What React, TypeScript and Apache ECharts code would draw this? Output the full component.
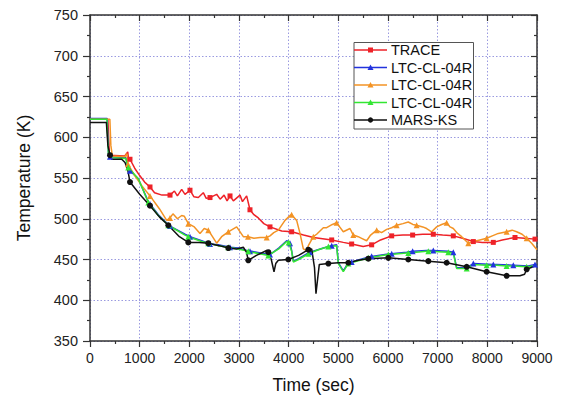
import React, { useEffect, useRef } from "react";
import * as echarts from "echarts";

// [time (s), temperature (K), marker flag]
const traceData: number[][] = [
  [0, 622], [360, 622, 0], [390, 578], [700, 577], [760, 582], [775, 574], [805, 573, 1], [900, 562], [1000, 553],
  [1100, 545], [1208, 539, 1], [1300, 532], [1450, 529], [1611, 529, 1], [1700, 534], [1760, 528], [1846, 536],
  [1913, 530], [2013, 535, 1], [2090, 527], [2181, 526], [2281, 532], [2340, 525], [2416, 526, 1], [2550, 530],
  [2620, 524], [2700, 529], [2760, 522], [2819, 528, 1], [2886, 522], [3020, 529], [3070, 521], [3154, 528],
  [3221, 511, 1], [3300, 505], [3389, 501], [3500, 494], [3624, 490, 1], [3859, 485], [4060, 484, 1], [4300, 480],
  [4500, 477], [4866, 474, 1], [5100, 471], [5268, 469, 1], [5500, 466], [5671, 468, 1], [5850, 474],
  [6074, 479, 1], [6300, 480], [6496, 480, 1], [6700, 481], [6912, 481, 1], [7100, 480], [7315, 479, 1],
  [7500, 476], [7718, 472, 1], [7900, 471], [8120, 471, 1], [8300, 474], [8557, 477, 1], [8750, 476],
  [8960, 475, 1], [9000, 475],
];

const ltcBlueData: number[][] = [
  [0, 623], [345, 623], [372, 580], [403, 576, 1], [720, 575], [760, 566], [805, 559, 1], [973, 549], [1174, 521],
  [1208, 518, 1], [1376, 505], [1577, 493], [1611, 491, 1], [1913, 481], [2013, 478, 1], [2248, 473], [2416, 469, 1],
  [2583, 468], [2819, 465, 1], [2986, 464], [3221, 460, 1], [3255, 460], [3590, 456], [3624, 456, 1], [3800, 464],
  [3960, 473], [4000, 472], [4027, 470, 1], [4060, 461], [4094, 448], [4200, 451], [4396, 458], [4430, 459, 1],
  [4700, 464], [4866, 467, 1], [4966, 468], [5000, 446], [5100, 436], [5201, 446], [5268, 447, 1], [5436, 450],
  [5671, 454, 1], [5704, 454], [6040, 457], [6074, 457, 1], [6376, 459], [6496, 460, 1], [6778, 461], [6912, 461, 1],
  [7214, 460], [7315, 459, 1], [7382, 440], [7584, 440], [7718, 445, 1], [8120, 444, 1], [8188, 444], [8523, 443, 1],
  [8825, 442], [8960, 444, 1], [9000, 444],
];

const ltcOrangeData: number[][] = [
  [0, 622], [400, 622], [420, 590], [450, 577], [700, 576], [740, 580], [765, 567, 1], [900, 553], [1050, 540],
  [1208, 528, 1], [1400, 512], [1544, 498], [1611, 501, 1], [1670, 506], [1760, 500], [1846, 504], [1900, 503],
  [1980, 494, 1], [2100, 490], [2215, 482], [2300, 488], [2382, 486, 1], [2550, 470], [2650, 478], [2785, 484, 1],
  [2953, 490], [3087, 478], [3181, 478, 1], [3300, 476], [3423, 477], [3557, 477, 1], [3624, 479], [3700, 483],
  [3792, 486], [3926, 498], [4027, 504], [4060, 505, 1], [4161, 498], [4228, 482], [4295, 463], [4362, 461],
  [4396, 467], [4496, 478, 1], [4563, 481], [4698, 489], [4765, 489], [4880, 493], [4966, 495, 1], [5100, 484],
  [5234, 488], [5301, 480, 1], [5400, 478], [5469, 476], [5570, 473], [5650, 480], [5772, 486, 1], [5870, 483],
  [5973, 487], [6074, 489], [6174, 492, 1], [6300, 494], [6408, 496], [6500, 493], [6576, 492, 1], [6700, 490],
  [6778, 488], [6879, 484], [6980, 490], [7080, 493], [7181, 495, 1], [7250, 490], [7315, 488], [7400, 482],
  [7483, 478], [7617, 470, 1], [7718, 472], [7850, 474], [7986, 476, 1], [8100, 479], [8221, 482], [8389, 484, 1],
  [8500, 486], [8590, 484], [8700, 481], [8792, 476, 1], [8892, 470], [9000, 462],
];

const ltcGreenData: number[][] = [
  [0, 622], [340, 622], [370, 580], [403, 575], [720, 574], [770, 563, 1], [973, 549], [1174, 520, 1], [1376, 504],
  [1577, 492, 1], [1913, 480], [1980, 478, 1], [2248, 472], [2382, 470, 1], [2583, 467], [2785, 465, 1], [2986, 463],
  [3187, 460, 1], [3255, 459], [3590, 455, 1], [3800, 463], [3960, 472], [4000, 471, 1], [4060, 460], [4094, 447],
  [4200, 450], [4396, 457, 1], [4600, 462], [4800, 466, 1], [4966, 467], [5000, 445], [5100, 435], [5201, 445, 1],
  [5436, 449], [5604, 452, 1], [5704, 453], [6006, 456, 1], [6040, 456], [6376, 458], [6409, 458, 1], [6778, 460],
  [6812, 460, 1], [7214, 459, 1], [7315, 458], [7382, 439], [7584, 439, 1], [7718, 444], [7986, 443, 1], [8188, 443],
  [8389, 442, 1], [8523, 442], [8792, 441, 1], [8825, 441], [9000, 443],
];

const marsData: number[][] = [
  [0, 618], [330, 618], [360, 590], [403, 578, 1], [437, 573], [638, 573], [705, 569], [760, 560], [805, 545, 1],
  [1000, 530], [1208, 516, 1], [1400, 502], [1577, 492, 1], [1800, 478], [1980, 471, 1], [2200, 471], [2382, 470, 1],
  [2600, 467], [2785, 464, 1], [2950, 463], [3087, 465], [3150, 459], [3187, 449, 1], [3350, 455], [3557, 461],
  [3590, 459, 1], [3650, 450], [3705, 435], [3740, 445], [3792, 449], [3993, 450, 1], [4200, 455], [4396, 462, 1],
  [4463, 463], [4520, 440], [4550, 408], [4590, 430], [4617, 444], [4799, 445, 1], [5000, 446], [5201, 446, 1],
  [5400, 449], [5604, 451, 1], [6006, 452, 1], [6409, 450, 1], [6812, 448, 1], [7181, 446, 1], [7584, 441, 1],
  [7986, 435, 1], [8389, 430, 1], [8657, 430], [8750, 432], [8792, 438, 1], [9000, 443],
];

const seriesNames = ["TRACE", "LTC-CL-04R", "LTC-CL-04R", "LTC-CL-04R", "MARS-KS"];
const xTicks = { min: 0, max: 9000, interval: 1000 };
const yTicks = { min: 350, max: 750, interval: 50 };

const FONT = "'Liberation Sans', Arial, sans-serif";

export default function App() {
  const ref = useRef<HTMLDivElement>(null);
  useEffect(() => {
    if (!ref.current) return;
    document.body.style.margin = "0";
    const chart = echarts.init(ref.current, null, { renderer: "svg" });
    const mk = (name: string, data: number[][], color: string, symbol: string, size: number, id: string) => ({
      type: "line",
      id,
      name,
      data,
      encode: { x: 0, y: 1 },
      color,
      symbol,
      symbolSize: (v: number[]) => (v[2] ? size : 0),
      showSymbol: true,
      showAllSymbol: true,
      lineStyle: { color, width: 1.5 },
      itemStyle: { color },
      emphasis: { disabled: true },
    });
    const frame = "#333";
    const axisCommon = {
      type: "value",
      axisLine: { show: true, onZero: false, lineStyle: { color: frame, width: 1.5 } },
      minorTick: { show: true, splitNumber: 2, length: 3, lineStyle: { color: frame, width: 1.2 } },
      minorSplitLine: { show: false },
    };
    chart.setOption({
      animation: false,
      backgroundColor: "#fff",
      grid: { left: 90, right: 25, top: 15, bottom: 56 },
      xAxis: [
        {
          ...axisCommon,
          ...xTicks,
          position: "bottom",
          name: "Time (sec)",
          nameLocation: "middle",
          nameGap: 35,
          nameTextStyle: { fontFamily: FONT, fontSize: 17.5, color: "#111" },
          axisTick: { show: true, length: 6, lineStyle: { color: frame, width: 1.2 } },
          axisLabel: { fontFamily: FONT, fontSize: 14, color: "#222", margin: 10, formatter: (v: number) => String(v) },
          splitLine: { show: true, lineStyle: { color: "#9a9ae0", type: [1.5, 2], width: 1 } },
        },
        {
          ...axisCommon,
          ...xTicks,
          position: "top",
          axisTick: { show: true, inside: true, length: 6, lineStyle: { color: frame, width: 1.2 } },
          axisLabel: { show: false },
          splitLine: { show: false },
        },
      ],
      yAxis: [
        {
          ...axisCommon,
          ...yTicks,
          position: "left",
          name: "Temperature (K)",
          nameLocation: "middle",
          nameGap: 57,
          nameTextStyle: { fontFamily: FONT, fontSize: 17.5, color: "#111" },
          axisTick: { show: true, length: 7, lineStyle: { color: frame, width: 1.2 } },
          axisLabel: { fontFamily: FONT, fontSize: 14.5, color: "#222", margin: 12, formatter: (v: number) => String(v) },
          splitLine: { show: true, lineStyle: { color: "#9a9ae0", type: [1.5, 2], width: 1 } },
        },
        {
          ...axisCommon,
          ...yTicks,
          position: "right",
          axisTick: { show: true, inside: true, length: 6, lineStyle: { color: frame, width: 1.2 } },
          axisLabel: { show: false },
          splitLine: { show: false },
        },
      ],
      series: [
        mk(seriesNames[0], traceData, "#ee2228", "rect", 5, "s0"),
        mk(seriesNames[1], ltcBlueData, "#2233dd", "triangle", 6, "s1"),
        mk(seriesNames[2], ltcOrangeData, "#f39325", "triangle", 6, "s2"),
        mk(seriesNames[3], ltcGreenData, "#33e633", "triangle", 6, "s3"),
        mk(seriesNames[4], marsData, "#111111", "circle", 6, "s4"),
      ],
    });

    // Legend drawn as graphic elements (names repeat, so ECharts legend cannot list them separately)
    const legendColors = ["#ee2228", "#2233dd", "#f39325", "#33e633", "#111111"];
    const legendSymbols = ["rect", "triangle", "triangle", "triangle", "circle"];
    const lx = 354, ly = 42.5, rowH = 17.5, w = 119.5, h = 86.5;
    const children: any[] = [
      { type: "rect", shape: { x: lx, y: ly, width: w, height: h }, style: { fill: "#fff", stroke: "#555", lineWidth: 1 }, z: 100 },
    ];
    seriesNames.forEach((n, i) => {
      const cy = ly + 7.5 + i * rowH;
      children.push({ type: "line", shape: { x1: lx, y1: cy, x2: lx + 33, y2: cy }, style: { stroke: legendColors[i], lineWidth: 1.5 }, z: 101 });
      const sx = lx + 16.5;
      if (legendSymbols[i] === "rect") {
        children.push({ type: "rect", shape: { x: sx - 2.5, y: cy - 2.5, width: 5, height: 5 }, style: { fill: legendColors[i] }, z: 102 });
      } else if (legendSymbols[i] === "triangle") {
        children.push({ type: "polygon", shape: { points: [[sx, cy - 3], [sx + 3, cy + 2.5], [sx - 3, cy + 2.5]] }, style: { fill: legendColors[i] }, z: 102 });
      } else {
        children.push({ type: "circle", shape: { cx: sx, cy, r: 2.7 }, style: { fill: legendColors[i] }, z: 102 });
      }
      children.push({
        type: "text",
        x: lx + 37,
        y: cy,
        style: { text: n, fontFamily: FONT, fontSize: 14.5, fill: "#111", verticalAlign: "middle" },
        z: 102,
      });
    });
    chart.setOption({ graphic: [{ type: "group", children }] });

    return () => chart.dispose();
  }, []);
  return <div ref={ref} style={{ width: 562, height: 399 }} />;
}
